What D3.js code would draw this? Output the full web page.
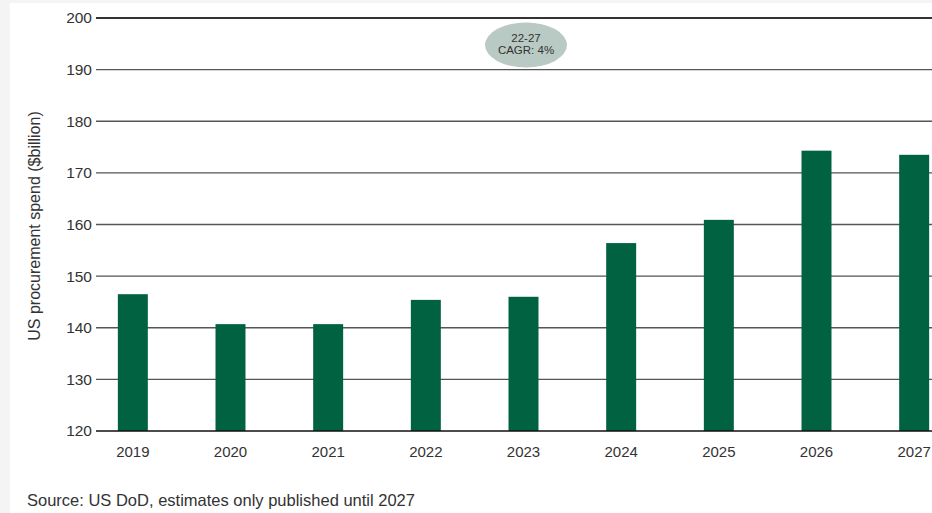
<!DOCTYPE html>
<html>
<head>
<meta charset="utf-8">
<script src="https://cdn.jsdelivr.net/npm/d3@7"></script>
<style>
  html, body { margin: 0; padding: 0; background: #f4f4f4; overflow: hidden; }
  svg { display: block; }
</style>
</head>
<body>
<script>
// Data
let years = ["2019", "2020", "2021", "2022", "2023", "2024", "2025", "2026", "2027"];
let spend = [146.5, 140.7, 140.7, 145.4, 146.0, 156.4, 160.9, 174.3, 173.5];
let yTicks = [120, 130, 140, 150, 160, 170, 180, 190, 200];
let cagrLines = ["22-27", "CAGR: 4%"];

let w = 932;
let h = 513;
let green = "#006241";
let textColor = "#333";
let font = "Liberation Sans, Arial, sans-serif";

let svg = d3.select("body").append("svg").attr("width", w).attr("height", h);

// White panel
svg.append("rect")
  .attr("x", 10).attr("y", 3)
  .attr("width", w - 10).attr("height", h - 3)
  .attr("fill", "#fff");

let xScale = d3.scaleBand()
  .domain(years)
  .range([84, 963])
  .paddingInner(0.693)
  .paddingOuter(0.3465);

let yScale = d3.scaleLinear()
  .domain([120, 200])
  .range([431, 18]);

// Gridlines
svg.append("g")
  .selectAll("line")
  .data(yTicks.filter((d) => d > 120))
  .enter()
  .append("line")
  .attr("x1", 96)
  .attr("x2", w)
  .attr("y1", (d) => yScale(d))
  .attr("y2", (d) => yScale(d))
  .attr("stroke", (d) => (d === 200 ? "#333" : "#555"))
  .attr("stroke-width", (d) => (d === 200 ? 2 : 1.3));

// Bars
svg.append("g")
  .selectAll("rect")
  .data(years)
  .enter()
  .append("rect")
  .attr("x", (d) => xScale(d))
  .attr("y", (d, i) => yScale(spend[i]))
  .attr("width", xScale.bandwidth())
  .attr("height", (d, i) => yScale(120) - yScale(spend[i]))
  .attr("fill", green);

// Baseline
svg.append("line")
  .attr("x1", 96).attr("x2", w)
  .attr("y1", yScale(120)).attr("y2", yScale(120))
  .attr("stroke", "#111")
  .attr("stroke-width", 1.5);

// Y tick labels
let yAxis = d3.axisLeft(yScale).tickValues(yTicks).tickSize(0).tickPadding(0);
let yg = svg.append("g")
  .attr("transform", "translate(92,0)")
  .call(yAxis);
yg.select(".domain").remove();
yg.selectAll("text")
  .attr("font-family", font)
  .attr("font-size", "15.5px")
  .attr("fill", textColor);

// X tick labels
let xAxis = d3.axisBottom(xScale).tickSize(0).tickPadding(0);
let xg = svg.append("g")
  .attr("transform", "translate(0,446)")
  .call(xAxis);
xg.select(".domain").remove();
xg.selectAll("text")
  .attr("font-family", font)
  .attr("font-size", "15px")
  .attr("fill", textColor);

// Y axis title
svg.append("text")
  .attr("transform", "translate(40,226) rotate(-90)")
  .attr("text-anchor", "middle")
  .attr("font-family", font)
  .attr("font-size", "16px")
  .attr("fill", textColor)
  .text("US procurement spend ($billion)");

// CAGR bubble
svg.append("ellipse")
  .attr("cx", 526).attr("cy", 45)
  .attr("rx", 41).attr("ry", 22.5)
  .attr("fill", "#b9c9c3");

svg.append("g")
  .selectAll("text")
  .data(cagrLines)
  .enter()
  .append("text")
  .attr("x", 526)
  .attr("y", (d, i) => 42 + i * 12)
  .attr("text-anchor", "middle")
  .attr("font-family", font)
  .attr("font-size", "11.5px")
  .attr("fill", textColor)
  .text((d) => d);

// Source
svg.append("text")
  .attr("x", 27).attr("y", 506)
  .attr("font-family", font)
  .attr("font-size", "16.5px")
  .attr("fill", textColor)
  .text("Source: US DoD, estimates only published until 2027");
</script>
</body>
</html>
